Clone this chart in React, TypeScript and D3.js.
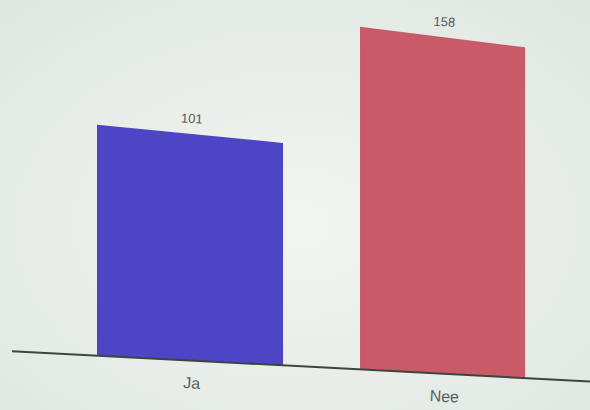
import React from "react";
import * as d3 from "d3";

const categories = ["Ja", "Nee"];
const values = [101, 158];
const barColors = ["#4d45c6", "#c95a68"];

const W = 590;
const H = 410;

// perspective of the photographed screen
const xBand = d3.scaleBand<string>().domain(categories).range([0, 1.0316]).paddingInner(0.305).paddingOuter(0.3476);
const screenX = (u: number) => -1.5 + 668.7 * u - 81 * u * u;
const baseY = (sx: number) => 350.5 + 0.0525 * sx;
const unitPx = (sx: number) => 2.33 - 0.00045 * sx;
const yVal = d3.scaleLinear().domain([0, 1]).range([0, 1]);
const proj = (u: number, v: number): [number, number] => {
  const sx = screenX(u);
  return [sx, baseY(sx) - unitPx(sx) * yVal(v)];
};

export default function App() {
  const bw = xBand.bandwidth();
  const line = d3.line<[number, number]>();
  return (
    <svg width={W} height={H} style={{ position: "absolute", left: 0, top: 0, display: "block" }}>
      <defs>
        <radialGradient id="bg" cx="50%" cy="55%" r="75%">
          <stop offset="0%" stopColor="#f2f5f1" />
          <stop offset="100%" stopColor="#dfe6e1" />
        </radialGradient>
      </defs>
      <rect x={0} y={0} width={W} height={H} fill="url(#bg)" />
      {categories.map((c, i) => {
        const u0 = xBand(c)!;
        const u1 = u0 + bw;
        const pts: [number, number][] = [proj(u0, 0), proj(u1, 0), proj(u1, values[i]), proj(u0, values[i])];
        const uc = u0 + bw / 2;
        const top = proj(uc, values[i]);
        const bot = proj(uc, 0);
        return (
          <g key={c}>
            <path d={line(pts)! + "Z"} fill={barColors[i]} />
            <text x={top[0]} y={top[1] - 11} textAnchor="middle" fontFamily="Liberation Sans, Arial, sans-serif" fontSize={13} fill="#555a58" transform={`rotate(3 ${top[0]} ${top[1] - 15})`}>
              {values[i]}
            </text>
            <text x={bot[0]} y={bot[1] + 28} textAnchor="middle" fontFamily="Liberation Sans, Arial, sans-serif" fontSize={16} fill="#5a5f5d" transform={`rotate(3 ${bot[0]} ${bot[1] + 22})`}>
              {c}
            </text>
          </g>
        );
      })}
      <line x1={12} y1={baseY(12)} x2={590} y2={baseY(590)} stroke="#3e4442" strokeWidth={2} />
    </svg>
  );
}
